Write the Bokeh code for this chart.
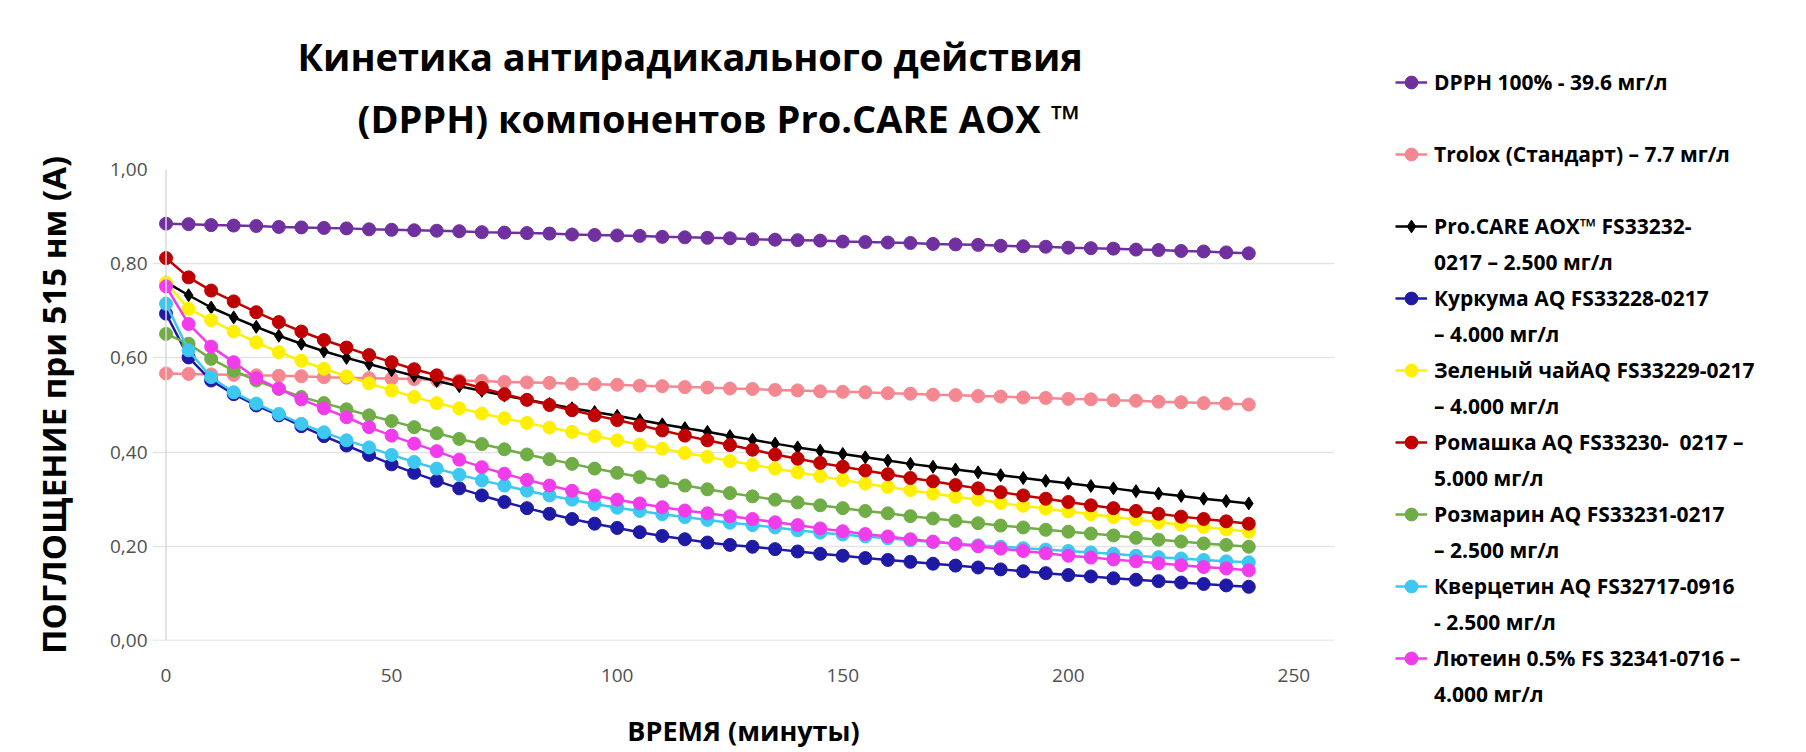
from bokeh.plotting import figure
from bokeh.models import (ColumnDataSource, Range1d, FixedTicker, CustomJSTickFormatter,
                          Span, Title, Legend, LegendItem)
from bokeh.embed import file_html
from bokeh.resources import INLINE

# --- data: absorbance at 515 nm, sampled every 5 minutes -------------------
minutes = list(range(0, 245, 5))

dpph_100 = [
    0.885, 0.884, 0.882, 0.881, 0.880, 0.878, 0.877, 0.876, 0.875, 0.873,
    0.872, 0.871, 0.870, 0.869, 0.867, 0.866, 0.865, 0.864, 0.862, 0.861,
    0.860, 0.859, 0.857, 0.856, 0.855, 0.854, 0.852, 0.851, 0.850, 0.849,
    0.847, 0.846, 0.845, 0.844, 0.842, 0.841, 0.840, 0.838, 0.837, 0.836,
    0.834, 0.833, 0.832, 0.830, 0.829, 0.827, 0.826, 0.824, 0.822]

trolox = [
    0.567, 0.566, 0.565, 0.564, 0.563, 0.562, 0.561, 0.559, 0.558, 0.557,
    0.556, 0.555, 0.553, 0.552, 0.551, 0.549, 0.548, 0.547, 0.545, 0.544,
    0.543, 0.541, 0.540, 0.538, 0.537, 0.535, 0.534, 0.532, 0.531, 0.529,
    0.528, 0.527, 0.525, 0.524, 0.522, 0.521, 0.519, 0.518, 0.516, 0.515,
    0.513, 0.512, 0.510, 0.509, 0.507, 0.506, 0.504, 0.503, 0.501]

procare_aox = [
    0.761, 0.733, 0.707, 0.686, 0.666, 0.647, 0.630, 0.614, 0.600, 0.587,
    0.574, 0.562, 0.551, 0.540, 0.530, 0.520, 0.511, 0.502, 0.493, 0.485,
    0.477, 0.468, 0.459, 0.451, 0.443, 0.434, 0.426, 0.418, 0.410, 0.403,
    0.396, 0.389, 0.382, 0.375, 0.369, 0.363, 0.357, 0.351, 0.345, 0.339,
    0.334, 0.328, 0.323, 0.317, 0.312, 0.307, 0.301, 0.296, 0.291]

curcuma = [
    0.694, 0.601, 0.552, 0.523, 0.499, 0.478, 0.455, 0.434, 0.414, 0.394,
    0.374, 0.356, 0.339, 0.323, 0.308, 0.294, 0.281, 0.269, 0.258, 0.248,
    0.239, 0.230, 0.222, 0.215, 0.208, 0.203, 0.199, 0.194, 0.189, 0.184,
    0.180, 0.175, 0.171, 0.167, 0.163, 0.159, 0.155, 0.151, 0.147, 0.143,
    0.139, 0.136, 0.132, 0.129, 0.126, 0.123, 0.120, 0.117, 0.114]

green_tea = [
    0.760, 0.704, 0.680, 0.656, 0.633, 0.612, 0.594, 0.577, 0.561, 0.546,
    0.531, 0.517, 0.504, 0.493, 0.482, 0.472, 0.462, 0.452, 0.443, 0.434,
    0.425, 0.416, 0.407, 0.398, 0.390, 0.381, 0.373, 0.365, 0.357, 0.349,
    0.341, 0.333, 0.326, 0.319, 0.312, 0.305, 0.299, 0.292, 0.286, 0.280,
    0.274, 0.268, 0.262, 0.257, 0.251, 0.246, 0.241, 0.236, 0.231]

chamomile = [
    0.812, 0.771, 0.743, 0.720, 0.697, 0.676, 0.656, 0.638, 0.622, 0.606,
    0.591, 0.576, 0.563, 0.549, 0.536, 0.523, 0.511, 0.500, 0.489, 0.478,
    0.468, 0.457, 0.446, 0.435, 0.425, 0.415, 0.405, 0.395, 0.386, 0.377,
    0.369, 0.361, 0.353, 0.345, 0.338, 0.330, 0.323, 0.315, 0.308, 0.301,
    0.294, 0.287, 0.281, 0.275, 0.269, 0.263, 0.258, 0.253, 0.248]

rosemary = [
    0.651, 0.630, 0.598, 0.573, 0.552, 0.534, 0.517, 0.504, 0.491, 0.478,
    0.466, 0.453, 0.440, 0.428, 0.417, 0.406, 0.395, 0.385, 0.375, 0.365,
    0.356, 0.347, 0.338, 0.329, 0.321, 0.313, 0.306, 0.299, 0.293, 0.287,
    0.281, 0.275, 0.270, 0.264, 0.259, 0.254, 0.249, 0.244, 0.240, 0.235,
    0.231, 0.227, 0.223, 0.218, 0.214, 0.210, 0.206, 0.203, 0.199]

quercetin = [
    0.715, 0.616, 0.559, 0.527, 0.503, 0.481, 0.460, 0.442, 0.425, 0.410,
    0.394, 0.379, 0.365, 0.352, 0.340, 0.329, 0.318, 0.308, 0.299, 0.290,
    0.282, 0.275, 0.268, 0.262, 0.256, 0.250, 0.245, 0.240, 0.234, 0.229,
    0.225, 0.221, 0.217, 0.213, 0.209, 0.206, 0.202, 0.199, 0.196, 0.193,
    0.190, 0.187, 0.184, 0.180, 0.177, 0.174, 0.171, 0.168, 0.166]

lutein = [
    0.752, 0.672, 0.624, 0.591, 0.557, 0.535, 0.512, 0.493, 0.474, 0.453,
    0.435, 0.418, 0.402, 0.384, 0.368, 0.354, 0.341, 0.329, 0.318, 0.308,
    0.299, 0.291, 0.283, 0.276, 0.270, 0.264, 0.258, 0.251, 0.245, 0.238,
    0.232, 0.226, 0.221, 0.215, 0.210, 0.205, 0.200, 0.195, 0.190, 0.185,
    0.180, 0.176, 0.172, 0.168, 0.164, 0.160, 0.156, 0.153, 0.149]

y_ticks = [0.0, 0.2, 0.4, 0.6, 0.8, 1.0]
x_ticks = [0, 50, 100, 150, 200, 250]

# key text (wrapped as in the key), values, colour, marker
series = [
    (["DPPH 100% - 39.6 мг/л"], dpph_100, "#7030A0", "circle"),
    (["Trolox (Стандарт) – 7.7 мг/л"], trolox, "#F4878F", "circle"),
    (["Pro.CARE AOX™ FS33232-", "0217 – 2.500 мг/л"], procare_aox, "#000000", "diamond"),
    (["Куркума AQ FS33228-0217", "– 4.000 мг/л"], curcuma, "#1E1AA6", "circle"),
    (["Зеленый чайAQ FS33229-0217", "– 4.000 мг/л"], green_tea, "#FFF000", "circle"),
    (["Ромашка AQ FS33230-  0217 –", "5.000 мг/л"], chamomile, "#C00000", "circle"),
    (["Розмарин AQ FS33231-0217", "– 2.500 мг/л"], rosemary, "#70AD47", "circle"),
    (["Кверцетин AQ FS32717-0916", "- 2.500 мг/л"], quercetin, "#3CC8F0", "circle"),
    (["Лютеин 0.5% FS 32341-0716 –", "4.000 мг/л"], lutein, "#F23CEB", "circle"),
]

FONT = "Open Sans"

# --- page geometry (pixels) -----------------------------------------------
W, H = 1806, 752
FRAME_LEFT, FRAME_RIGHT = 152, 1334
FRAME_TOP, FRAME_BOTTOM = 169, 640

p = figure(width=W, height=H, frame_width=FRAME_RIGHT - FRAME_LEFT,
           x_range=Range1d(-3, 259), y_range=Range1d(0, 1.0),
           output_backend="svg", toolbar_location=None,
           min_border_left=FRAME_LEFT, min_border_right=W - FRAME_RIGHT,
           min_border_top=FRAME_TOP, min_border_bottom=H - FRAME_BOTTOM,
           background_fill_color="white", border_fill_color="white")
p.outline_line_color = None

# two-line heading (stacked upward from the plot area)
p.title.text = "Кинетика антирадикального действия"
p.title.align = "left"
p.title.offset = 145
p.title.standoff = 12
p.title.text_font = FONT
p.title.text_font_style = "bold"
p.title.text_font_size = "38px"
p.title.text_color = "black"

sub = Title(text="(DPPH) компонентов Pro.CARE AOX ™", align="left", offset=205,
            standoff=5, text_font=FONT, text_font_style="bold",
            text_font_size="38px", text_color="black")
gap = Title(text=" ", standoff=20, text_font_size="1px")
p.add_layout(gap, "above")
p.add_layout(sub, "above")

for ax in (p.xaxis, p.yaxis):
    ax.axis_line_color = None
    ax.major_tick_line_color = None
    ax.minor_tick_line_color = None
    ax.major_tick_out = 0
    ax.major_tick_in = 0
    ax.major_label_text_font = FONT
    ax.major_label_text_font_size = "19px"
    ax.major_label_text_color = "#505050"
    ax.major_label_text_line_height = 1.0
    ax.axis_label_text_font = FONT
    ax.axis_label_text_font_style = "bold"
    ax.axis_label_text_color = "black"
    ax.axis_label_text_line_height = 1.0

p.yaxis.ticker = FixedTicker(ticks=y_ticks)
p.yaxis.formatter = CustomJSTickFormatter(code="return tick.toFixed(2).replace('.', ',');")
p.yaxis.axis_label = "ПОГЛОЩЕНИЕ при 515 нм (А)"
p.yaxis.axis_label_text_font_size = "33px"
p.yaxis.major_label_standoff = 5
p.yaxis.axis_label_standoff = 31

p.xaxis.ticker = FixedTicker(ticks=x_ticks)
p.xaxis.axis_label = "ВРЕМЯ (минуты)"
p.xaxis.axis_label_text_font_size = "27px"
p.xaxis.major_label_standoff = 28
p.xaxis.axis_label_standoff = 27

p.xgrid.visible = False
p.ygrid.grid_line_color = "#E4E4E4"
p.ygrid.grid_line_width = 1.5

# axis baselines at x = 0 and y = 0
p.add_layout(Span(location=0, dimension="height", line_color="#D9D9D9", line_width=1.5))
p.add_layout(Span(location=0, dimension="width", line_color="#D9D9D9", line_width=1.5))

renderers = []
for labels, vals, color, marker in series:
    src = ColumnDataSource(data=dict(minutes=minutes, absorbance=vals))
    lr = p.line("minutes", "absorbance", source=src, line_color=color, line_width=2.5)
    sr = p.scatter("minutes", "absorbance", source=src, marker=marker,
                   size=13, fill_color=color, line_color=color)
    renderers.append((lr, sr))

# --- key on the right -------------------------------------------------------
# an invisible renderer carries wrapped second lines and spacer rows
blank = p.scatter(x=[], y=[], fill_alpha=0, line_alpha=0)

items = []
for (labels, vals, color, marker), (lr, sr) in zip(series, renderers):
    items.append(LegendItem(label=labels[0], renderers=[lr, sr]))
    rest = labels[1:] if len(labels) > 1 else [" "]
    items += [LegendItem(label=t, renderers=[blank]) for t in rest]

ROW = 36                          # key row pitch, px
KEY_LEFT, KEY_TOP = 1395, 64      # top-left corner of the key on the page
key_h = ROW * len(items)
key = Legend(items=items, ncols=1,
             location=(KEY_LEFT - FRAME_RIGHT, FRAME_BOTTOM - KEY_TOP - key_h),
             orientation="vertical", margin=0, padding=0, spacing=0,
             label_height=ROW, glyph_height=ROW, glyph_width=32,
             label_standoff=7, border_line_alpha=0, background_fill_alpha=0,
             label_text_font=FONT, label_text_font_style="bold",
             label_text_font_size="21px", label_text_color="black",
             label_text_baseline="middle")
p.add_layout(key, "right")

open("out.html", "w").write(file_html(p, INLINE))
